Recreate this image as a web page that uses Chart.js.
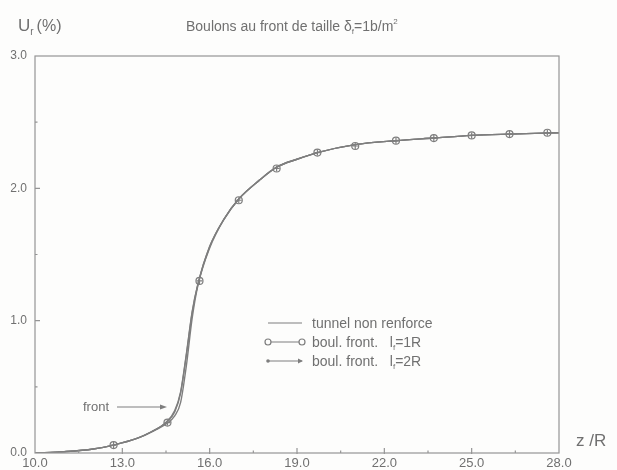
<!DOCTYPE html>
<html>
<head>
<meta charset="utf-8">
<script src="https://cdn.jsdelivr.net/npm/chart.js@4.4.0/dist/chart.umd.min.js"></script>
<style>
  html, body { margin: 0; padding: 0; background: #fdfdfc; }
  #wrap { width: 617px; height: 470px; position: relative; }
</style>
</head>
<body>
<div id="wrap"><canvas id="chart"></canvas></div>
<script>
// values
const zCurve = [10, 11, 12, 12.7, 13.5, 14.0, 14.5, 14.8, 15.0, 15.2, 15.4, 15.6, 16.0, 16.5, 17.0, 17.7, 18.3, 19.0, 19.7, 21.0, 22.4, 23.7, 25.0, 26.3, 28.0];
const uTunnel = [0.0, 0.01, 0.03, 0.06, 0.11, 0.16, 0.22, 0.28, 0.38, 0.66, 1.02, 1.27, 1.55, 1.77, 1.92, 2.06, 2.16, 2.22, 2.27, 2.33, 2.36, 2.38, 2.40, 2.41, 2.42];
const uBoul1R = [0.0, 0.01, 0.03, 0.06, 0.11, 0.16, 0.23, 0.32, 0.46, 0.75, 1.07, 1.28, 1.56, 1.77, 1.92, 2.06, 2.16, 2.22, 2.27, 2.33, 2.36, 2.38, 2.40, 2.41, 2.42];
const uBoul2R = [0.0, 0.01, 0.03, 0.06, 0.11, 0.16, 0.23, 0.31, 0.45, 0.74, 1.06, 1.28, 1.56, 1.77, 1.92, 2.06, 2.16, 2.22, 2.27, 2.33, 2.36, 2.38, 2.40, 2.41, 2.42];

const zMarks = [12.7, 14.55, 15.65, 17.0, 18.3, 19.7, 21.0, 22.4, 23.7, 25.0, 26.3, 27.6];
const uMarks1R = [0.06, 0.23, 1.30, 1.91, 2.15, 2.27, 2.32, 2.36, 2.38, 2.40, 2.41, 2.42];
const uMarks2R = [0.06, 0.23, 1.30, 1.91, 2.15, 2.27, 2.32, 2.36, 2.38, 2.40, 2.41, 2.42];

const xTicks = [10, 13, 16, 19, 22, 25, 28];
const xMinor = [11.5, 14.5, 17.5, 20.5, 23.5, 26.5];
const yTicks = [0, 1, 2, 3];
const yMinor = [0.5, 1.5, 2.5];

const lineCol = '#7e7e7e';
const textCol = '#707070';
const frameCol = '#959595';
const font = '"Liberation Sans", Arial, sans-serif';

const pts = (xs, ys) => xs.map((x, i) => ({ x: x, y: ys[i] }));

// draw a run of text pieces (for subscripts / superscripts)
function drawParts(ctx, parts, x, y) {
    parts.forEach(p => {
        ctx.font = p.size + 'px ' + (p.family || font);
        ctx.fillText(p.t, x, y + (p.dy || 0));
        x += ctx.measureText(p.t).width + (p.gap || 0);
    });
}

const decorPlugin = {
    id: 'decor',
    afterDraw(chart) {
        const ctx = chart.ctx;
        const a = chart.chartArea;
        const xs = chart.scales.x, ys = chart.scales.y;
        ctx.save();
        // frame
        ctx.strokeStyle = frameCol;
        ctx.lineWidth = 1.2;
        ctx.strokeRect(a.left, a.top, a.right - a.left, a.bottom - a.top);
        // inward ticks
        ctx.beginPath();
        xTicks.slice(1, -1).forEach(v => {
            const px = xs.getPixelForValue(v);
            ctx.moveTo(px, a.bottom + 1); ctx.lineTo(px, a.bottom - 5);
        });
        xMinor.forEach(v => {
            const px = xs.getPixelForValue(v);
            ctx.moveTo(px, a.bottom); ctx.lineTo(px, a.bottom - 2.5);
        });
        yTicks.slice(1, -1).forEach(v => {
            const py = ys.getPixelForValue(v);
            ctx.moveTo(a.left, py); ctx.lineTo(a.left + 5, py);
        });
        yMinor.forEach(v => {
            const py = ys.getPixelForValue(v);
            ctx.moveTo(a.left, py); ctx.lineTo(a.left + 2.5, py);
        });
        ctx.stroke();

        ctx.fillStyle = textCol;
        ctx.textBaseline = 'alphabetic';
        ctx.textAlign = 'left';
        // y axis title
        drawParts(ctx, [
            { t: 'U', size: 17 },
            { t: 'r', size: 10, dy: 4, gap: 3 },
            { t: '(%)', size: 16 }
        ], 18, 31);
        // x axis title
        drawParts(ctx, [{ t: 'z /R', size: 17 }], 576, 446);
        // chart title
        drawParts(ctx, [
            { t: 'Boulons au front de taille ', size: 14 },
            { t: 'δ', size: 14 },
            { t: 'f', size: 8, dy: 3 },
            { t: '=1b/m', size: 14 },
            { t: '2', size: 8, dy: -7 }
        ], 186, 31);

        // legend
        const lx1 = 268, lx2 = 302, tx = 312;
        const rows = [323, 342, 361];
        ctx.strokeStyle = lineCol;
        ctx.lineWidth = 1.2;
        rows.forEach(r => {
            ctx.beginPath(); ctx.moveTo(lx1, r); ctx.lineTo(lx2, r); ctx.stroke();
        });
        ctx.fillStyle = '#fdfdfc';
        [lx1, lx2].forEach(px => {
            ctx.beginPath(); ctx.arc(px, rows[1], 3, 0, Math.PI * 2); ctx.fill(); ctx.stroke();
        });
        ctx.fillStyle = lineCol;
        ctx.beginPath(); ctx.arc(lx1, rows[2], 1.8, 0, Math.PI * 2); ctx.fill();
        ctx.beginPath();
        ctx.moveTo(lx2 + 1, rows[2]); ctx.lineTo(lx2 - 4, rows[2] - 2.5); ctx.lineTo(lx2 - 4, rows[2] + 2.5);
        ctx.closePath(); ctx.fill();

        ctx.fillStyle = textCol;
        drawParts(ctx, [{ t: 'tunnel non renforce', size: 14 }], tx, rows[0] + 5);
        drawParts(ctx, [
            { t: 'boul. front.   l', size: 14 },
            { t: 'f', size: 8, dy: 3 },
            { t: '=1R', size: 14 }
        ], tx, rows[1] + 5);
        drawParts(ctx, [
            { t: 'boul. front.   l', size: 14 },
            { t: 'f', size: 8, dy: 3 },
            { t: '=2R', size: 14 }
        ], tx, rows[2] + 5);

        // "front" annotation with arrow
        drawParts(ctx, [{ t: 'front', size: 13 }], 83, 411);
        ctx.strokeStyle = lineCol;
        ctx.beginPath(); ctx.moveTo(117, 407); ctx.lineTo(164, 407); ctx.stroke();
        ctx.fillStyle = lineCol;
        ctx.beginPath();
        ctx.moveTo(167, 407); ctx.lineTo(160, 404.5); ctx.lineTo(160, 409.5);
        ctx.closePath(); ctx.fill();
        ctx.restore();
    }
};

new Chart(document.getElementById('chart'), {
    type: 'scatter',
    data: {
        datasets: [
            {
                label: 'tunnel non renforce',
                data: pts(zCurve, uTunnel),
                showLine: true,
                borderColor: lineCol,
                borderWidth: 1.4,
                pointRadius: 0,
                cubicInterpolationMode: 'monotone'
            },
            {
                label: 'boul. front. lf=1R',
                data: pts(zCurve, uBoul1R),
                showLine: true,
                borderColor: lineCol,
                borderWidth: 1.4,
                pointRadius: 0,
                cubicInterpolationMode: 'monotone'
            },
            {
                label: 'boul. front. lf=2R',
                data: pts(zCurve, uBoul2R),
                showLine: true,
                borderColor: lineCol,
                borderWidth: 1.4,
                pointRadius: 0,
                cubicInterpolationMode: 'monotone'
            },
            {
                label: 'marks 1R',
                data: pts(zMarks, uMarks1R),
                showLine: false,
                pointStyle: 'circle',
                pointRadius: 3.5,
                pointBorderWidth: 1.2,
                pointBorderColor: lineCol,
                pointBackgroundColor: 'rgba(0,0,0,0)'
            },
            {
                label: 'marks 2R',
                data: pts(zMarks, uMarks2R),
                showLine: false,
                pointStyle: 'cross',
                pointRadius: 3,
                pointBorderWidth: 1.2,
                pointBorderColor: lineCol
            }
        ]
    },
    options: {
        responsive: true,
        maintainAspectRatio: false,
        animation: false,
        layout: { padding: { left: 0, top: 56, right: 58, bottom: 0 } },
        plugins: {
            legend: { display: false },
            tooltip: { enabled: false }
        },
        scales: {
            x: {
                type: 'linear',
                min: 10,
                max: 28,
                afterFit: s => { s.height = 17; },
                grid: { display: false, drawTicks: false },
                border: { display: false },
                afterBuildTicks: s => { s.ticks = xTicks.map(v => ({ value: v })); },
                ticks: {
                    color: textCol,
                    font: { family: font, size: 13 },
                    padding: 3,
                    maxRotation: 0,
                    callback: v => v.toFixed(1)
                }
            },
            y: {
                type: 'linear',
                min: 0,
                max: 3,
                afterFit: s => { s.width = 35; },
                grid: { display: false, drawTicks: false },
                border: { display: false },
                afterBuildTicks: s => { s.ticks = yTicks.map(v => ({ value: v })); },
                ticks: {
                    color: textCol,
                    font: { family: font, size: 12 },
                    padding: 8,
                    callback: v => v.toFixed(1)
                }
            }
        }
    },
    plugins: [decorPlugin]
});
</script>
</body>
</html>
